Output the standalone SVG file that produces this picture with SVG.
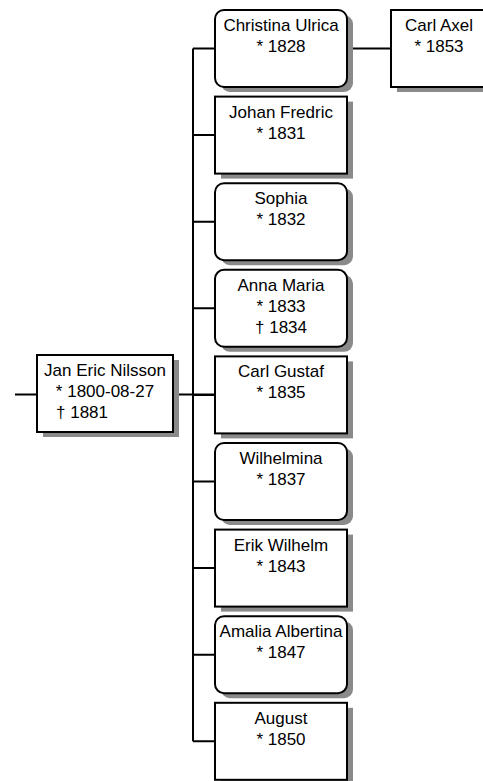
<svg xmlns="http://www.w3.org/2000/svg" width="483" height="781" viewBox="0 0 483 781">
<style>
.box{fill:#fff;stroke:#000;stroke-width:2}
.sh{fill:#8a8a8a}
.ln{stroke:#000;stroke-width:2;fill:none}
text{font-family:"Liberation Sans",Arial,sans-serif;font-size:17px;fill:#000;text-anchor:middle}
text.l{text-anchor:start}
</style>
<rect width="483" height="781" fill="#fff"/>
<g id="connectors">
<path class="ln" d="M15 394.5H37M173 394.5H215M193 48.5V741.3M193 48.5H215M193 135.1H215M193 221.7H215M193 308.3H215M193 394.9H215M193 481.5H215M193 568.1H215M193 654.7H215M193 741.3H215M347 48.5H391"/>
</g>
<g id="jan">
<rect class="sh" x="43" y="360" width="136" height="77"/>
<rect class="box" x="37" y="355" width="136" height="77"/>
<text x="105" y="376">Jan Eric Nilsson</text>
<text x="105" y="397">* 1800-08-27</text>
<text class="l" x="56" y="418" fill="#000">† 1881</text>
</g>
<g id="christina">
<rect class="sh" x="221" y="15" width="132" height="77" rx="9"/>
<rect class="box" x="215" y="10" width="132" height="77" rx="9"/>
<text x="281" y="31">Christina Ulrica</text>
<text x="281" y="52">* 1828</text>
</g>
<g id="carlaxel">
<rect class="sh" x="397" y="15" width="132" height="77"/>
<rect class="box" x="391" y="10" width="132" height="77"/>
<text x="439" y="31">Carl Axel</text>
<text x="439" y="52">* 1853</text>
</g>
<g id="johan">
<rect class="sh" x="221" y="101.6" width="132" height="77"/>
<rect class="box" x="215" y="96.6" width="132" height="77"/>
<text x="281" y="117.6">Johan Fredric</text>
<text x="281" y="138.6">* 1831</text>
</g>
<g id="sophia">
<rect class="sh" x="221" y="188.2" width="132" height="77" rx="9"/>
<rect class="box" x="215" y="183.2" width="132" height="77" rx="9"/>
<text x="281" y="204.2">Sophia</text>
<text x="281" y="225.2">* 1832</text>
</g>
<g id="anna">
<rect class="sh" x="221" y="274.8" width="132" height="77" rx="9"/>
<rect class="box" x="215" y="269.8" width="132" height="77" rx="9"/>
<text x="281" y="290.8">Anna Maria</text>
<text x="281" y="311.8">* 1833</text>
<text x="281" y="332.8">† 1834</text>
</g>
<g id="carlgustaf">
<rect class="sh" x="221" y="361.4" width="132" height="77"/>
<rect class="box" x="215" y="356.4" width="132" height="77"/>
<text x="281" y="377.4">Carl Gustaf</text>
<text x="281" y="398.4">* 1835</text>
</g>
<g id="wilhelmina">
<rect class="sh" x="221" y="448" width="132" height="77" rx="9"/>
<rect class="box" x="215" y="443" width="132" height="77" rx="9"/>
<text x="281" y="464">Wilhelmina</text>
<text x="281" y="485">* 1837</text>
</g>
<g id="erik">
<rect class="sh" x="221" y="534.6" width="132" height="77"/>
<rect class="box" x="215" y="529.6" width="132" height="77"/>
<text x="281" y="550.6">Erik Wilhelm</text>
<text x="281" y="571.6">* 1843</text>
</g>
<g id="amalia">
<rect class="sh" x="221" y="621.2" width="132" height="77" rx="9"/>
<rect class="box" x="215" y="616.2" width="132" height="77" rx="9"/>
<text x="281" y="637.2">Amalia Albertina</text>
<text x="281" y="658.2">* 1847</text>
</g>
<g id="august">
<rect class="sh" x="221" y="707.8" width="132" height="77"/>
<rect class="box" x="215" y="702.8" width="132" height="77"/>
<text x="281" y="723.8">August</text>
<text x="281" y="744.8">* 1850</text>
</g>
</svg>
